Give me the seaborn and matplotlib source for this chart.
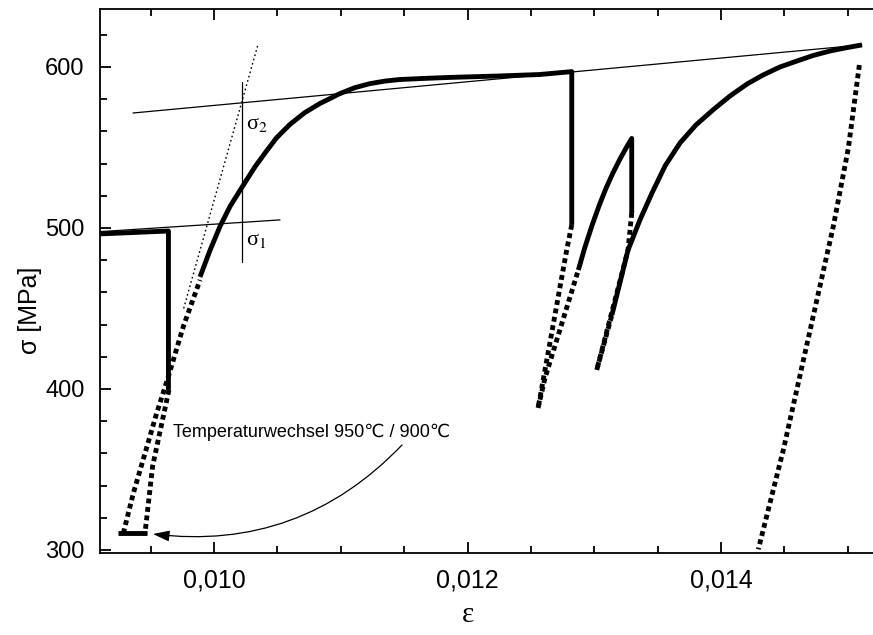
import matplotlib
matplotlib.use("Agg")
import matplotlib.pyplot as plt
import seaborn as sns
import numpy as np
import pandas as pd
from matplotlib.ticker import FixedLocator, MultipleLocator, FixedFormatter

sns.set_style("ticks")
plt.rcParams['font.family'] = ['Liberation Sans', 'DejaVu Sans']
plt.rcParams['mathtext.fontset'] = 'stix'
for k in ["text.color", "axes.labelcolor", "xtick.color", "ytick.color", "axes.edgecolor"]:
    plt.rcParams[k] = "black"

# ---------------- data (strain eps, stress sig in MPa) ----------------
# 950 C test: end of loading (thick solid, incl. drop)
eps_950_load = [0.00910, 0.00964, 0.00964]
sig_950_load = [496.3, 498.1, 399.4]
# 950 C unloading (dotted)
eps_950_unload = [0.009644, 0.009515, 0.009455]
sig_950_unload = [399.4, 352.0, 310.4]
# hold during temperature change
eps_hold = [0.009242, 0.009471]
sig_hold = [310.6, 310.6]
# 900 C reloading (dotted)
eps_900_reload = [0.009284, 0.009363, 0.009455, 0.009547, 0.009639, 0.009757, 0.009889]
sig_900_reload = [310.4, 335.2, 360.0, 384.9, 407.6, 438.7, 467.7]
# 900 C flow curve (solid) incl. drop
eps_900_flow = [0.009889, 0.009968, 0.010047, 0.010126, 0.010218, 0.010323, 0.010410,
                0.010494, 0.010597, 0.010715, 0.010833, 0.010991, 0.011109, 0.011227,
                0.011346, 0.011464, 0.011661, 0.011858, 0.012252, 0.012568, 0.012822, 0.012822]
sig_900_flow = [469.6, 486.1, 501.0, 513.4, 525.0, 538.0, 547.4,
                556.1, 564.2, 571.6, 577.2, 583.4, 587.1, 589.6,
                591.2, 592.2, 592.9, 593.5, 594.4, 595.3, 597.1, 501.9]
# unloading 2 (dotted)
eps_unload2 = [0.012822, 0.012782, 0.012571, 0.012556]
sig_unload2 = [501.9, 486.3, 394.4, 388.2]
# reloading 3 (dotted)
eps_reload3 = [0.012556, 0.012611, 0.012874]
sig_reload3 = [388.2, 406.8, 473.9]
# flow 3 (solid) incl. drop
eps_flow3 = [0.012874, 0.012926, 0.012982, 0.013037, 0.013092, 0.013147, 0.013203,
             0.013250, 0.013295, 0.013295]
sig_flow3 = [473.9, 488.1, 501.6, 513.7, 524.6, 534.2, 542.9,
             549.6, 555.6, 509.3]
# unloading 3 (dotted)
eps_unload3 = [0.013295, 0.013266, 0.013019]
sig_unload3 = [509.3, 486.3, 411.8]
# reloading 4 (dotted)
eps_reload4 = [0.013019, 0.013139]
sig_reload4 = [411.8, 446.0]
# flow 4 (solid)
eps_flow4 = [0.013139, 0.013266, 0.013360, 0.013455, 0.013558, 0.013676, 0.013802,
             0.013936, 0.014071, 0.014205, 0.014331, 0.014465, 0.014599, 0.014725,
             0.014859, 0.014978, 0.015112]
sig_flow4 = [446.0, 486.3, 505.0, 521.7, 538.5, 552.8, 564.0,
             573.3, 582.0, 589.4, 595.0, 600.0, 603.7, 607.1,
             609.9, 611.8, 613.7]
# final unloading (dotted)
eps_unload4 = [0.015091, 0.015004, 0.014885, 0.014491, 0.014294]
sig_unload4 = [601.2, 549.5, 500.8, 362.1, 300.4]

# construction lines
eps_sig1_line = [0.00910, 0.01052]
sig_sig1_line = [497.7, 505.0]
eps_sig2_line = [0.00936, 0.01511]
sig_sig2_line = [571.4, 613.7]
eps_vert_line = [0.010217, 0.010217]
sig_vert_line = [479.1, 590.9]
eps_slope_line = [0.00976, 0.010349]
sig_slope_line = [450.0, 614.7]

x_ticks = [0.010, 0.012, 0.014]
x_ticklabels = ["0,010", "0,012", "0,014"]
y_ticks = [300, 400, 500, 600]
y_ticklabels = ["300", "400", "500", "600"]

annot_text = "Temperaturwechsel 950\u2103 / 900\u2103"

# ---------------- figure ----------------
fig = plt.figure(figsize=(8.73, 6.35), dpi=100)
W, H = 873, 635
ax = fig.add_axes([100 / W, (H - 553) / H, 800 / W, (553 - 9) / H])

LW = 3.5
DOT = (0, (1.0, 0.75))

def draw(e, s, kind):
    if kind == "solid":
        kw = dict(lw=LW, linestyle="-", solid_joinstyle="round", solid_capstyle="butt")
    elif kind == "dotted":
        kw = dict(lw=LW, linestyle=DOT, dash_capstyle="butt")
    elif kind == "thin":
        kw = dict(lw=0.9, linestyle="-")
    else:  # thin dotted
        kw = dict(lw=1.0, linestyle=(0, (1.2, 2.0)))
    sns.lineplot(x=e, y=s, sort=False, estimator=None, color="black", ax=ax, **kw)

draw(eps_sig1_line, sig_sig1_line, "thin")
draw(eps_sig2_line, sig_sig2_line, "thin")
draw(eps_vert_line, sig_vert_line, "thin")
draw(eps_slope_line, sig_slope_line, "thindot")

draw(eps_950_load, sig_950_load, "solid")
draw(eps_950_unload, sig_950_unload, "dotted")
draw(eps_hold, sig_hold, "solid")
draw(eps_900_reload, sig_900_reload, "dotted")
draw(eps_900_flow, sig_900_flow, "solid")
draw(eps_unload2, sig_unload2, "dotted")
draw(eps_reload3, sig_reload3, "dotted")
draw(eps_flow3, sig_flow3, "solid")
draw(eps_unload3, sig_unload3, "dotted")
draw(eps_reload4, sig_reload4, "dotted")
draw(eps_flow4, sig_flow4, "solid")
draw(eps_unload4, sig_unload4, "dotted")

ax.set_xlim(0.0091, 0.0091 + 800 / 126750)
ax.set_ylim(298.1, 636.0)

# labels sigma_1, sigma_2 (upright serif sigma with subscript)
serif = ['Liberation Serif', 'DejaVu Serif']
ax.text(0.01025, 564.0, "\u03c3$_2$", fontsize=16, ha="left", va="center", family=serif)
ax.text(0.01025, 491.9, "\u03c3$_1$", fontsize=16, ha="left", va="center", family=serif)

# annotation
ax.text(0.009676, 373.3, annot_text, fontsize=13, ha="left", va="center",
        family=['Liberation Sans', 'DejaVu Sans'])
ax.annotate("", xy=(0.009518, 309.9), xytext=(0.011483, 365.2),
            arrowprops=dict(arrowstyle="-|>,head_length=1.0,head_width=0.33",
                            connectionstyle="arc3,rad=-0.25", color="black",
                            lw=0.9, shrinkA=0, shrinkB=0, mutation_scale=10))

# axes styling
for side in ["left", "bottom", "top"]:
    ax.spines[side].set_visible(True)
    ax.spines[side].set_linewidth(1.3)
    ax.spines[side].set_color("black")
ax.spines["right"].set_visible(False)

ax.xaxis.set_major_locator(FixedLocator(x_ticks))
ax.xaxis.set_major_formatter(FixedFormatter(x_ticklabels))
ax.xaxis.set_minor_locator(MultipleLocator(0.0005))
ax.yaxis.set_major_locator(FixedLocator(y_ticks))
ax.yaxis.set_major_formatter(FixedFormatter(y_ticklabels))
ax.yaxis.set_minor_locator(MultipleLocator(20))

ax.tick_params(which="both", direction="in", top=True, right=False, width=1.3, color="black")
ax.tick_params(which="major", length=8)
ax.tick_params(which="minor", length=5)
ax.tick_params(axis="x", which="major", pad=11, labelsize=18, labelcolor="black")
ax.tick_params(axis="y", which="major", pad=11, labelsize=17, labelcolor="black")
for lab in ax.get_xticklabels():
    lab.set_family(['Liberation Sans Narrow', 'Liberation Sans', 'DejaVu Sans'])

ax.set_xlabel("\u03b5", fontsize=21, family=serif)
ax.xaxis.set_label_coords(0.46, -0.114)
ax.xaxis.label.set_va("center")
ax.set_ylabel("\u03c3 [MPa]", fontsize=18)
ax.yaxis.set_label_coords(-0.072, 0.447)

fig.savefig("out.png", dpi=100)
